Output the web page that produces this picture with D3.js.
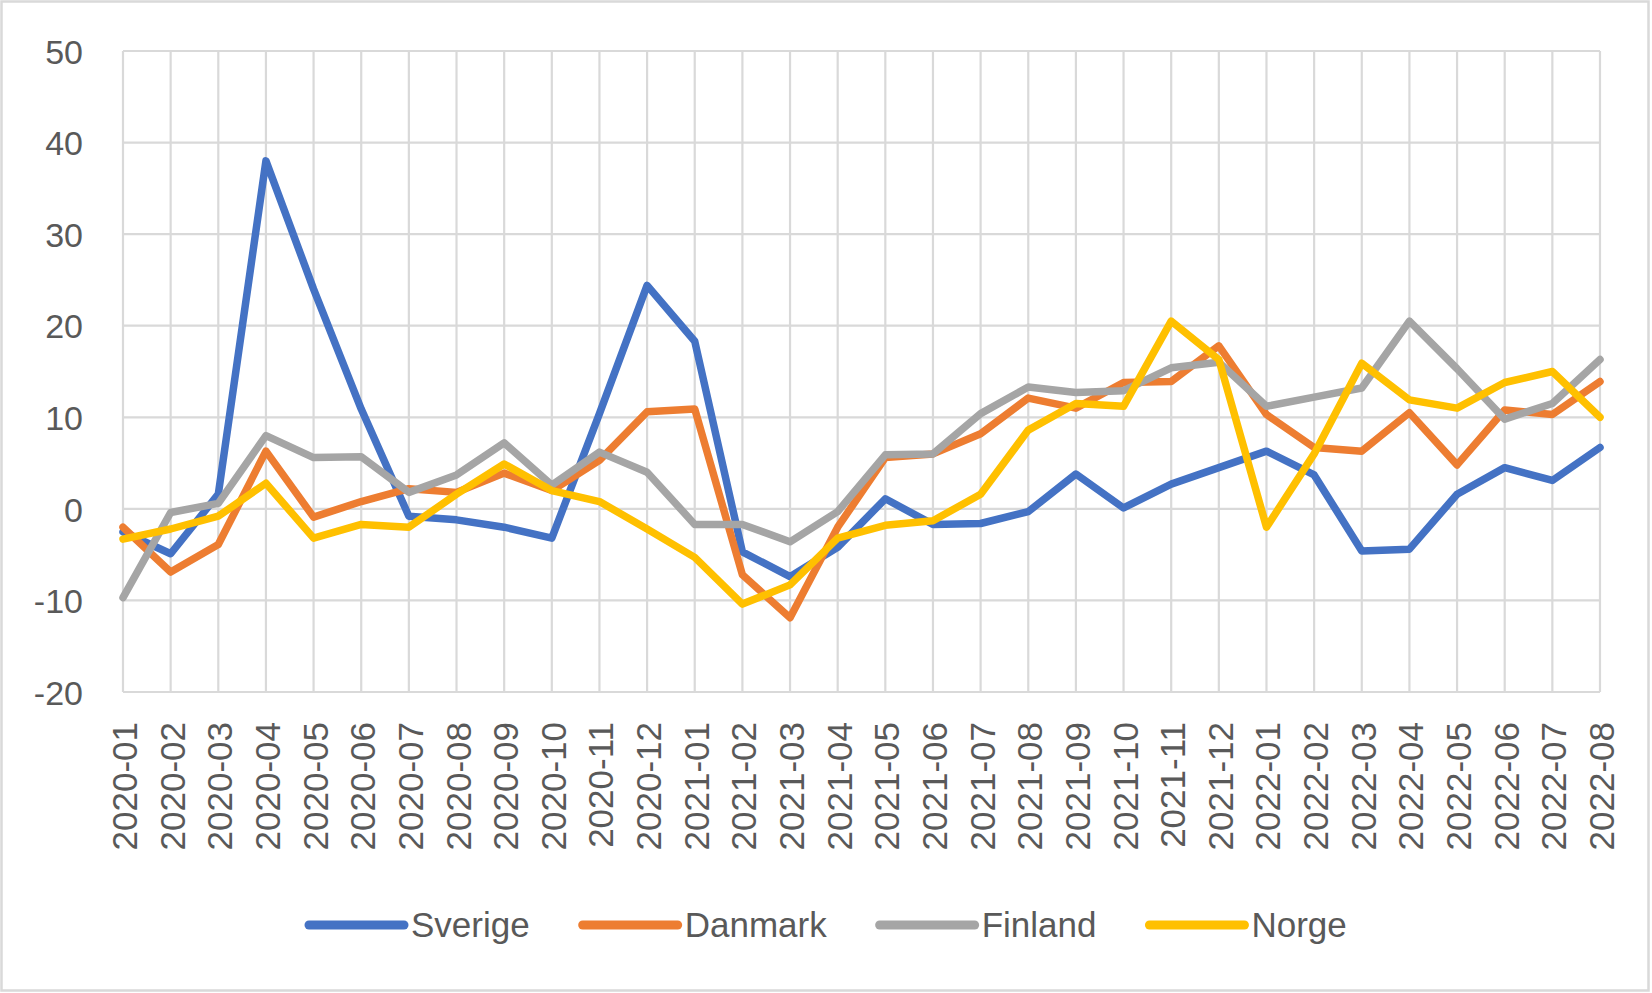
<!DOCTYPE html>
<html>
<head>
<meta charset="utf-8">
<script src="https://cdn.jsdelivr.net/npm/d3@7"></script>
<style>
  html, body { margin: 0; padding: 0; background: #fff; }
  svg { display: block; }
</style>
</head>
<body>
<svg id="chart" width="1652" height="993"></svg>
<script>
const months = ["2020-01","2020-02","2020-03","2020-04","2020-05","2020-06","2020-07","2020-08","2020-09","2020-10","2020-11","2020-12",
  "2021-01","2021-02","2021-03","2021-04","2021-05","2021-06","2021-07","2021-08","2021-09","2021-10","2021-11","2021-12",
  "2022-01","2022-02","2022-03","2022-04","2022-05","2022-06","2022-07","2022-08"];

const sverige = [-2.5,-4.9,1.6,38.0,24.0,10.9,-0.8,-1.2,-2.0,-3.2,10.4,24.4,18.3,-4.7,-7.4,-4.2,1.1,-1.7,-1.6,-0.3,3.8,0.1,2.7,4.5,6.3,3.7,-4.6,-4.4,1.6,4.5,3.1,6.7];
const danmark = [-2.0,-6.9,-3.9,6.3,-0.9,0.8,2.2,1.8,3.9,2.0,5.3,10.6,10.9,-7.2,-11.9,-2.0,5.6,6.0,8.2,12.1,11.0,13.8,13.9,17.8,10.3,6.7,6.3,10.5,4.8,10.8,10.3,13.9];
const finland = [-9.7,-0.4,0.6,8.0,5.6,5.7,1.8,3.7,7.2,2.6,6.2,4.0,-1.7,-1.7,-3.6,-0.3,5.9,6.0,10.4,13.3,12.7,12.9,15.4,16.0,11.2,12.2,13.2,20.5,15.3,9.8,11.5,16.3];
const norge   = [-3.3,-2.2,-0.8,2.8,-3.2,-1.7,-2.0,1.6,4.9,2.0,0.8,-2.2,-5.3,-10.4,-8.3,-3.2,-1.8,-1.3,1.6,8.6,11.5,11.2,20.5,16.3,-2.0,6.0,15.9,11.9,11.0,13.8,15.0,10.0];

const seriesNames = ["Sverige","Danmark","Finland","Norge"];
const seriesColors = ["#4472C4","#ED7D31","#A5A5A5","#FFC000"];
const seriesValues = [sverige, danmark, finland, norge];
const yTicks = [-20,-10,0,10,20,30,40,50];

const W = 1652, H = 993;
const margin = {left: 123, right: 1600, top: 51, bottom: 692};
const svg = d3.select("#chart");
const textColor = "#595959";
const gridColor = "#D9D9D9";

// outer border
svg.append("rect").attr("x", 1.5).attr("y", 1.5).attr("width", W - 5).attr("height", H - 4)
  .attr("fill", "#fff").attr("stroke", gridColor).attr("stroke-width", 2.5);

const x = d3.scalePoint().domain(months).range([margin.left, margin.right]);
const y = d3.scaleLinear().domain([-20, 50]).range([margin.bottom, margin.top]);

// horizontal gridlines
svg.append("g").selectAll("line").data(yTicks).join("line")
  .attr("x1", margin.left).attr("x2", margin.right)
  .attr("y1", d => y(d)).attr("y2", d => y(d))
  .attr("stroke", gridColor).attr("stroke-width", 2.2);

// vertical gridlines
svg.append("g").selectAll("line").data(months).join("line")
  .attr("x1", d => x(d)).attr("x2", d => x(d))
  .attr("y1", margin.top).attr("y2", margin.bottom)
  .attr("stroke", gridColor).attr("stroke-width", 2.2);

// y axis labels
const yAxis = d3.axisLeft(y).tickValues(yTicks).tickSize(0).tickPadding(40).tickFormat(d => String(d));
const yg = svg.append("g").attr("transform", `translate(${margin.left},0)`).call(yAxis);
yg.select(".domain").remove();
yg.selectAll("text").attr("fill", textColor)
  .style("font-family", "'Liberation Sans', Arial, sans-serif").style("font-size", "34px")
  .attr("dy", "0.36em");

// x axis labels (rotated)
const xAxis = d3.axisBottom(x).tickSize(0).tickPadding(0);
const xg = svg.append("g").attr("transform", `translate(0,${margin.bottom})`).call(xAxis);
xg.select(".domain").remove();
xg.selectAll("text")
  .attr("fill", textColor)
  .style("font-family", "'Liberation Sans', Arial, sans-serif").style("font-size", "35px")
  .attr("text-anchor", "end")
  .attr("dy", null)
  .attr("y", 0)
  .attr("transform", "translate(1,30) rotate(-90)")
  .attr("dominant-baseline", "central");

// lines
const line = d3.line().x((d, i) => x(months[i])).y(d => y(d));
seriesValues.forEach((vals, k) => {
  svg.append("path").datum(vals)
    .attr("d", line)
    .attr("fill", "none")
    .attr("stroke", seriesColors[k])
    .attr("stroke-width", 7.5)
    .attr("stroke-linejoin", "round")
    .attr("stroke-linecap", "round");
});

// legend
const legend = svg.append("g").attr("transform", "translate(309,0)");
const legendY = 925;
const lineLen = 95, lineGap = 7, itemGap = 53;
let cx = 0;
seriesNames.forEach((name, k) => {
  const g = legend.append("g");
  g.append("line").attr("x1", 0).attr("x2", lineLen).attr("y1", 0).attr("y2", 0)
    .attr("stroke", seriesColors[k]).attr("stroke-width", 9).attr("stroke-linecap", "round");
  const t = g.append("text").attr("x", lineLen + lineGap).attr("y", 0).attr("dy", "0.35em")
    .attr("fill", textColor)
    .style("font-family", "'Liberation Sans', Arial, sans-serif").style("font-size", "35px")
    .text(name);
  const w = lineLen + lineGap + t.node().getComputedTextLength();
  g.attr("transform", `translate(${cx},${legendY})`);
  cx += w + itemGap;
});
</script>
</body>
</html>
